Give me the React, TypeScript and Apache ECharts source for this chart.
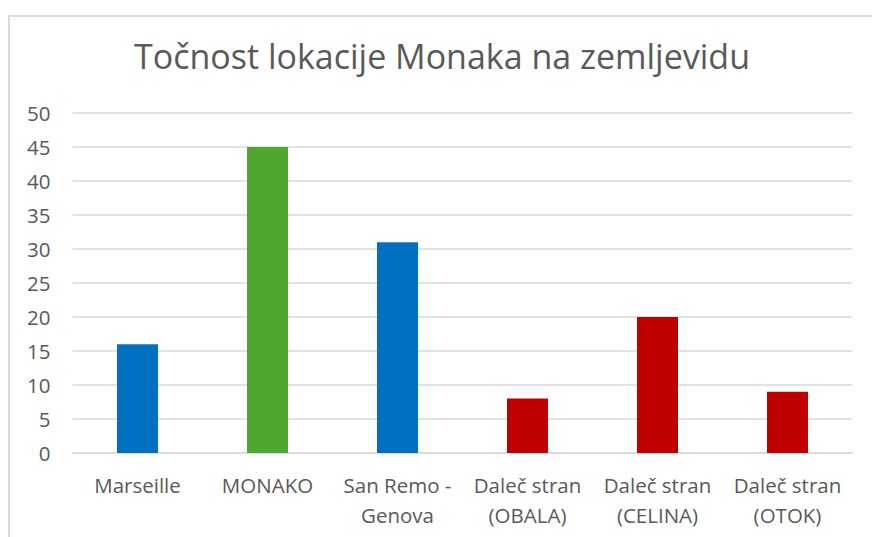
import React, { useEffect, useRef } from "react";
import * as echarts from "echarts";

const categories = [
  "Marseille",
  "MONAKO",
  "San Remo -\nGenova",
  "Daleč stran\n(OBALA)",
  "Daleč stran\n(CELINA)",
  "Daleč stran\n(OTOK)",
];
const values = [16, 45, 31, 8, 20, 9];
const colors = ["#0070C0", "#4EA72E", "#0070C0", "#C00000", "#C00000", "#C00000"];
const title = "Točnost lokacije Monaka na zemljevidu";

export default function App() {
  const ref = useRef<HTMLDivElement>(null);
  useEffect(() => {
    if (!ref.current) return;
    const chart = echarts.init(ref.current, undefined, { renderer: "svg" });
    const font = "Open Sans";
    chart.setOption({
      animation: false,
      title: {
        text: title,
        left: "center",
        top: 17,
        textStyle: { fontFamily: font, fontSize: 34, fontWeight: "normal", color: "#595959" },
      },
      grid: { left: 62.5, right: 21.5, top: 96, bottom: 86 },
      xAxis: {
        type: "category",
        data: categories,
        axisLine: { lineStyle: { color: "#d9d9d9", width: 1.5 } },
        axisTick: { show: false },
        axisLabel: {
          fontFamily: font,
          fontSize: 20.5,
          color: "#595959",
          margin: 17,
          lineHeight: 30,
          interval: 0,
        },
      },
      yAxis: {
        type: "value",
        min: 0,
        max: 50,
        interval: 5,
        axisLine: { show: false },
        axisTick: { show: false },
        splitLine: { lineStyle: { color: "#d9d9d9", width: 1.5 } },
        axisLabel: { fontFamily: font, fontSize: 20.5, color: "#595959", margin: 22 },
      },
      series: [
        {
          type: "bar",
          data: values.map((v, i) => ({ value: v, itemStyle: { color: colors[i] } })),
          barWidth: 41,
        },
      ],
    });
    return () => chart.dispose();
  }, []);
  return (
    <div
      style={{
        position: "absolute",
        left: 8,
        top: 15,
        width: 880,
        height: 540,
        border: "2px solid #d9d9d9",
        boxSizing: "border-box",
        background: "#fff",
      }}
    >
      <div ref={ref} style={{ width: 864, height: 522 }} />
    </div>
  );
}
